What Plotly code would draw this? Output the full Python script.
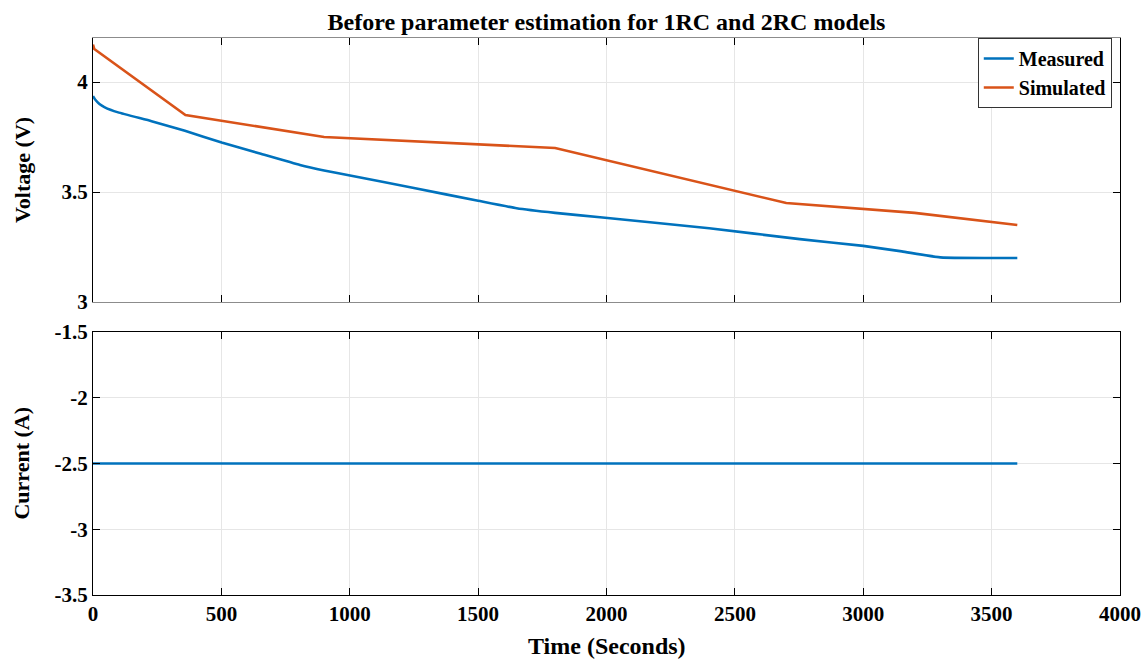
import plotly.graph_objects as go

# Measured voltage (V) vs time (s)
t_meas = [0, 10, 25, 46, 98, 228, 358, 501, 650, 806, 900, 1001, 1250, 1500, 1650, 1800, 1975, 2400, 2753, 3000, 3150, 3300, 3600]
v_meas = [3.936, 3.918, 3.900, 3.885, 3.862, 3.822, 3.778, 3.725, 3.675, 3.623, 3.598, 3.575, 3.518, 3.46, 3.426, 3.405, 3.385, 3.335, 3.286, 3.255, 3.23, 3.203, 3.2]

# Simulated voltage (V) vs time (s)
t_sim = [0, 5, 360, 900, 1800, 2700, 3200, 3600]
v_sim = [4.17, 4.15, 3.85, 3.75, 3.70, 3.45, 3.405, 3.35]

# Current (A)
t_cur = [0, 3600]
i_cur = [-2.5, -2.5]

x_ticks = list(range(0, 4001, 500))
v_ticks = [3, 3.5, 4]
i_ticks = [-3.5, -3, -2.5, -2, -1.5]

blue = "#0072BD"
red = "#D95319"
ff = "Liberation Serif"
grid = "#e6e6e6"

fig = go.Figure()
fig.add_trace(go.Scatter(x=t_meas, y=v_meas, mode="lines", name="<b>Measured</b>",
                         line=dict(color=blue, width=2.6, shape="spline", smoothing=0.4),
                         xaxis="x", yaxis="y"))
fig.add_trace(go.Scatter(x=t_sim, y=v_sim, mode="lines", name="<b>Simulated</b>",
                         line=dict(color=red, width=2.6), xaxis="x", yaxis="y"))
fig.add_trace(go.Scatter(x=t_cur, y=i_cur, mode="lines", showlegend=False,
                         line=dict(color=blue, width=2.6), xaxis="x2", yaxis="y2"))

tickfont = dict(family=ff, size=21, color="black")
common_x = dict(range=[0, 4000], tickvals=x_ticks, showgrid=True, automargin=False,
                gridcolor=grid, gridwidth=1, ticks="inside", ticklen=7, tickcolor="black",
                showline=True, mirror="ticks", linewidth=1, zeroline=False)
common_y = dict(showgrid=True, gridcolor=grid, ticks="inside", ticklen=7, tickcolor="black",
                showline=True, mirror="ticks", linecolor="black", linewidth=1, zeroline=False,
                tickfont=tickfont, automargin=False)

fig.update_layout(
    width=1148, height=660,
    margin=dict(l=93, r=28, t=38, b=65, autoexpand=False),
    paper_bgcolor="white", plot_bgcolor="white",
    title=dict(text="<b>Before parameter estimation for 1RC and 2RC models</b>",
               x=(93 + 1120) / 2 / 1148, xanchor="center", y=1 - 22 / 660, yanchor="middle",
               font=dict(family=ff, size=24, color="black")),
    xaxis=dict(**common_x, domain=[0, 1], anchor="y", showticklabels=False, linecolor="#8c8c8c"),
    yaxis=dict(**common_y, domain=[0.526, 1], anchor="x", range=[3, 4.2], tickvals=v_ticks,
               ticktext=["<b>%g</b>" % v for v in v_ticks]),
    xaxis2=dict(**common_x, domain=[0, 1], anchor="y2", linecolor="black",
                ticktext=["<b>%d</b>" % v for v in x_ticks], tickfont=tickfont),
    yaxis2=dict(**common_y, domain=[0, 0.472], anchor="x2", range=[-3.5, -1.5],
                tickvals=i_ticks, ticktext=["<b>%g</b>" % v for v in i_ticks]),
    legend=dict(x=0.992, y=1, xanchor="right", yanchor="top", bgcolor="white",
                bordercolor="#333333", borderwidth=1,
                font=dict(family=ff, size=20, color="black"),
                tracegroupgap=0, itemwidth=30),
    showlegend=True,
)

label_font = dict(family=ff, size=22, color="black")
fig.add_annotation(text="<b>Voltage (V)</b>", xref="paper", yref="y domain",
                   x=(22 - 93) / 1027, y=0.5, textangle=-90, showarrow=False,
                   xanchor="center", yanchor="middle", font=label_font)
fig.add_annotation(text="<b>Current (A)</b>", xref="paper", yref="y2 domain",
                   x=(22 - 93) / 1027, y=0.5, textangle=-90, showarrow=False,
                   xanchor="center", yanchor="middle", font=label_font)
fig.add_annotation(text="<b>Time (Seconds)</b>", xref="x2 domain", yref="paper",
                   x=0.5, y=(595 - 646) / 557, showarrow=False,
                   xanchor="center", yanchor="middle", font=dict(family=ff, size=24, color="black"))

fig.write_html("out.html")
